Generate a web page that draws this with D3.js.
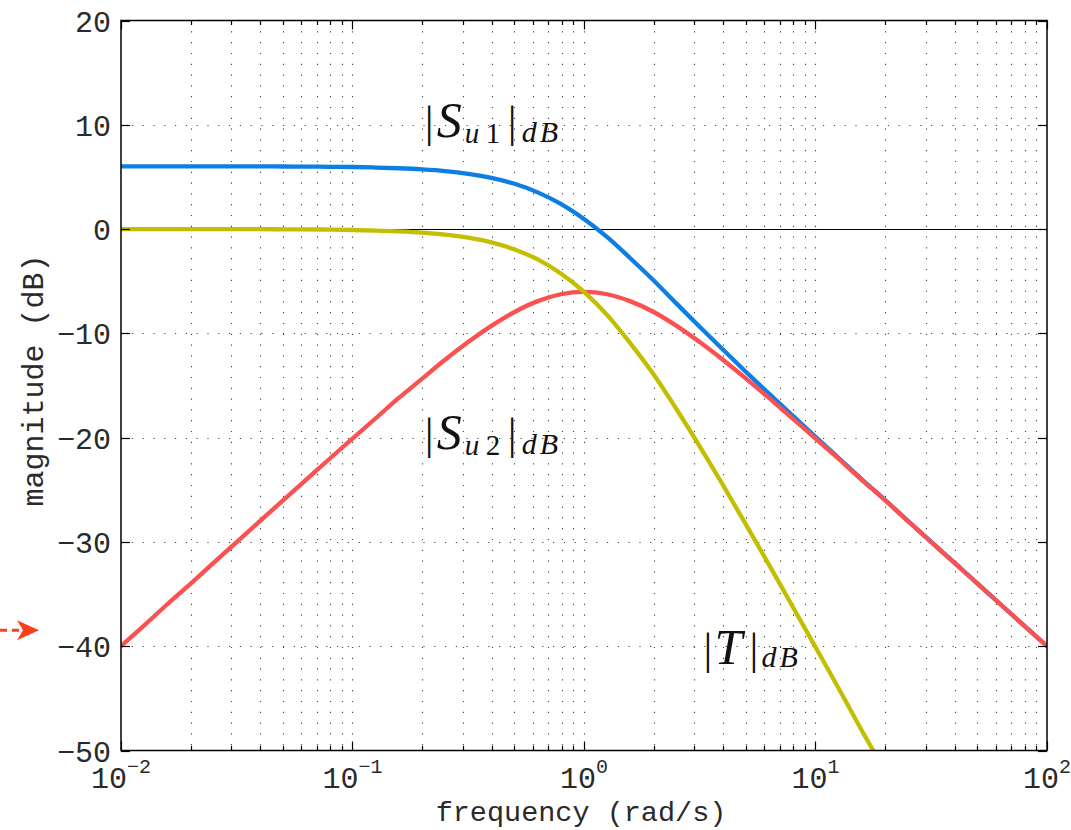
<!DOCTYPE html>
<html>
<head>
<meta charset="utf-8">
<script src="https://cdn.jsdelivr.net/npm/d3@7"></script>
<style>
  html, body { margin: 0; padding: 0; background: #fff; }
  svg { display: block; }
</style>
</head>
<body>
<svg id="chart" width="1071" height="830"></svg>
<script>
// Frequency samples (rad/s), ten per decade
const freq = [0.01,0.0126,0.0158,0.02,0.0251,0.0316,0.0398,0.0501,0.0631,0.0794,
              0.1,0.126,0.158,0.2,0.251,0.316,0.398,0.501,0.631,0.794,
              1,1.26,1.58,2,2.51,3.16,3.98,5.01,6.31,7.94,
              10,12.6,15.8,20,25.1,31.6,39.8,50.1,63.1,79.4,100];

// Magnitudes in dB at those frequencies
const su1 = [6.02,6.02,6.02,6.02,6.02,6.01,6.01,6.00,5.99,5.97,
             5.95,5.90,5.83,5.72,5.56,5.30,4.91,4.34,3.52,2.41,
             0.97,-0.78,-2.77,-4.93,-7.15,-9.37,-11.55,-13.70,-15.80,-17.87,
             -19.92,-21.95,-23.97,-25.98,-27.99,-29.99,-31.99,-34.00,-36.00,-38.00,-40.00];
const su2 = [-40.00,-38.00,-36.00,-34.00,-32.01,-30.01,-28.01,-26.02,-24.03,-22.05,
             -20.09,-18.14,-16.22,-14.34,-12.53,-10.83,-9.28,-7.95,-6.91,-6.25,
             -6.02,-6.25,-6.91,-7.95,-9.28,-10.83,-12.53,-14.34,-16.22,-18.14,
             -20.09,-22.05,-24.03,-26.02,-28.01,-30.01,-32.01,-34.00,-36.00,-38.00,-40.00];
const tMag = [0,0,0,0,-0.01,-0.01,-0.01,-0.02,-0.03,-0.05,
              -0.09,-0.14,-0.22,-0.34,-0.53,-0.83,-1.28,-1.95,-2.91,-4.25,
              -6.02,-8.25,-10.91,-13.95,-17.28,-20.83,-24.53,-28.34,-32.22,-36.14,
              -40.09,-44.06,-48.03,-52.02];

// Axis ticks
const yTicks = [20, 10, 0, -10, -20, -30, -40, -50];
const xDecades = [-2, -1, 0, 1, 2];

const mono = "'Liberation Mono', 'DejaVu Sans Mono', monospace";
const serif = "'Liberation Serif', 'DejaVu Serif', serif";

const svg = d3.select("#chart");
const L = 121, R = 1047, T = 20.5, B = 750.5;

const x = d3.scaleLog().domain([0.01, 100]).range([L, R]);
const y = d3.scaleLinear().domain([-50, 20]).range([B, T]);

svg.append("defs").append("clipPath").attr("id", "plotClip")
  .append("rect").attr("x", L).attr("y", T).attr("width", R - L).attr("height", B - T);

// Dotted grid
const minor = x.ticks(40).filter(v => v > 0.01 && v < 100);
const grid = svg.append("g").attr("stroke", "#444").attr("stroke-width", 1.1)
  .attr("stroke-dasharray", "1.2,9.6");
grid.selectAll("line.v").data(minor).join("line")
  .attr("x1", d => Math.round(x(d)) + 0.5).attr("x2", d => Math.round(x(d)) + 0.5)
  .attr("y1", T).attr("y2", B);
grid.selectAll("line.h").data(yTicks.filter(v => v < 20 && v > -50 && v !== 0)).join("line")
  .attr("x1", L).attr("x2", R)
  .attr("y1", d => Math.round(y(d)) + 0.5).attr("y2", d => Math.round(y(d)) + 0.5);

// Zero-dB reference
svg.append("line").attr("x1", L).attr("x2", R)
  .attr("y1", Math.round(y(0)) + 0.5).attr("y2", Math.round(y(0)) + 0.5)
  .attr("stroke", "#000").attr("stroke-width", 1.2);

// Curves
const line = d3.line().x(d => x(d[0])).y(d => y(d[1])).curve(d3.curveMonotoneX);
const series = [
  { vals: su1, color: "#0d7fe4" },
  { vals: su2, color: "#fb5151" },
  { vals: tMag, color: "#c3be00" }
];
const curves = svg.append("g").attr("clip-path", "url(#plotClip)");
series.forEach(s => {
  curves.append("path")
    .datum(s.vals.map((v, i) => [freq[i], v]))
    .attr("d", line)
    .attr("fill", "none")
    .attr("stroke", s.color)
    .attr("stroke-width", 4.3)
    .attr("stroke-linejoin", "round");
});

// Frame and ticks
const axes = svg.append("g").attr("stroke", "#000");
axes.append("rect").attr("x", L).attr("y", T).attr("width", R - L).attr("height", B - T)
  .attr("fill", "none").attr("stroke-width", 1.5);
const allX = x.ticks(40);
allX.forEach(v => {
  const lg = Math.log10(v);
  const major = Math.abs(lg - Math.round(lg)) < 1e-9;
  const len = major ? 9 : 4.5;
  const px = Math.round(x(v)) + 0.5;
  axes.append("line").attr("x1", px).attr("x2", px).attr("y1", B).attr("y2", B - len).attr("stroke-width", 1.2);
  axes.append("line").attr("x1", px).attr("x2", px).attr("y1", T).attr("y2", T + len).attr("stroke-width", 1.2);
});
yTicks.forEach(v => {
  const py = Math.round(y(v)) + 0.5;
  axes.append("line").attr("x1", L).attr("x2", L + 9).attr("y1", py).attr("y2", py).attr("stroke-width", 1.2);
  axes.append("line").attr("x1", R).attr("x2", R - 9).attr("y1", py).attr("y2", py).attr("stroke-width", 1.2);
});

// Tick labels
svg.append("g").selectAll("text").data(yTicks).join("text")
  .attr("x", L - 10).attr("y", d => y(d)).attr("dy", "0.37em")
  .attr("text-anchor", "end")
  .attr("font-family", mono).attr("font-size", 30).attr("fill", "#2a2a2a")
  .text(d => d < 0 ? "\u2212" + Math.abs(d) : String(d));

const xl = svg.append("g").selectAll("text").data(xDecades).join("text")
  .attr("x", d => x(Math.pow(10, d))).attr("y", 788)
  .attr("text-anchor", "middle")
  .attr("font-family", mono).attr("font-size", 30).attr("fill", "#2a2a2a");
xl.append("tspan").text("10");
xl.append("tspan").attr("dy", -15).attr("font-size", 20)
  .text(d => d < 0 ? "\u2212" + Math.abs(d) : String(d));

// Axis titles
svg.append("text").attr("x", (L + R) / 2 - 3).attr("y", 821)
  .attr("text-anchor", "middle").attr("font-family", mono).attr("font-size", 28.5).attr("fill", "#2a2a2a")
  .text("frequency (rad/s)");
svg.append("text").attr("transform", "translate(43," + ((T + B) / 2 - 5) + ") rotate(-90)")
  .attr("text-anchor", "middle").attr("font-family", mono).attr("font-size", 30).attr("fill", "#2a2a2a")
  .text("magnitude (dB)");

// Curve labels: |S_u1|_dB, |S_u2|_dB, |T|_dB
// parts: [text, dx, dy, size, italic]
const labels = [
  { f: 0.205, db: 8.85, parts: [["|", 0, 0, 44, false], ["S", 12, 0, 50, true], ["u", 40, 6, 29, true], ["1", 61, 6, 29, false],
                                ["|", 83, 0, 44, false], ["d", 97, 5, 30, true], ["B", 115, 5, 30, true]] },
  { f: 0.205, db: -21.05, parts: [["|", 0, 0, 44, false], ["S", 12, 0, 50, true], ["u", 40, 6, 29, true], ["2", 61, 6, 29, false],
                                ["|", 83, 0, 44, false], ["d", 97, 5, 30, true], ["B", 115, 5, 30, true]] },
  { f: 3.28, db: -41.75, parts: [["|", 0, 0, 44, false], ["T", 11, 0, 50, true],
                                ["|", 46, 0, 44, false], ["d", 58, 3, 30, true], ["B", 76, 3, 30, true]] }
];
labels.forEach(lb => {
  const bx = x(lb.f), by = y(lb.db);
  const g = svg.append("g").attr("font-family", serif).attr("fill", "#111");
  lb.parts.forEach(p => {
    g.append("text").attr("x", bx + p[1]).attr("y", by + p[2])
      .attr("font-size", p[3]).attr("font-style", p[4] ? "italic" : "normal")
      .text(p[0]);
  });
});

// Marker arrow beside the -40 dB label
const ay = y(-40) - 16;
const mark = svg.append("g");
mark.append("line").attr("x1", 0).attr("x2", 22).attr("y1", ay).attr("y2", ay)
  .attr("stroke", "#ff3d1a").attr("stroke-width", 3).attr("stroke-dasharray", "7,5");
mark.append("path")
  .attr("d", `M17,${ay - 10} L39,${ay} L17,${ay + 10} L23,${ay} Z`)
  .attr("fill", "#ff3d1a");
</script>
</body>
</html>
